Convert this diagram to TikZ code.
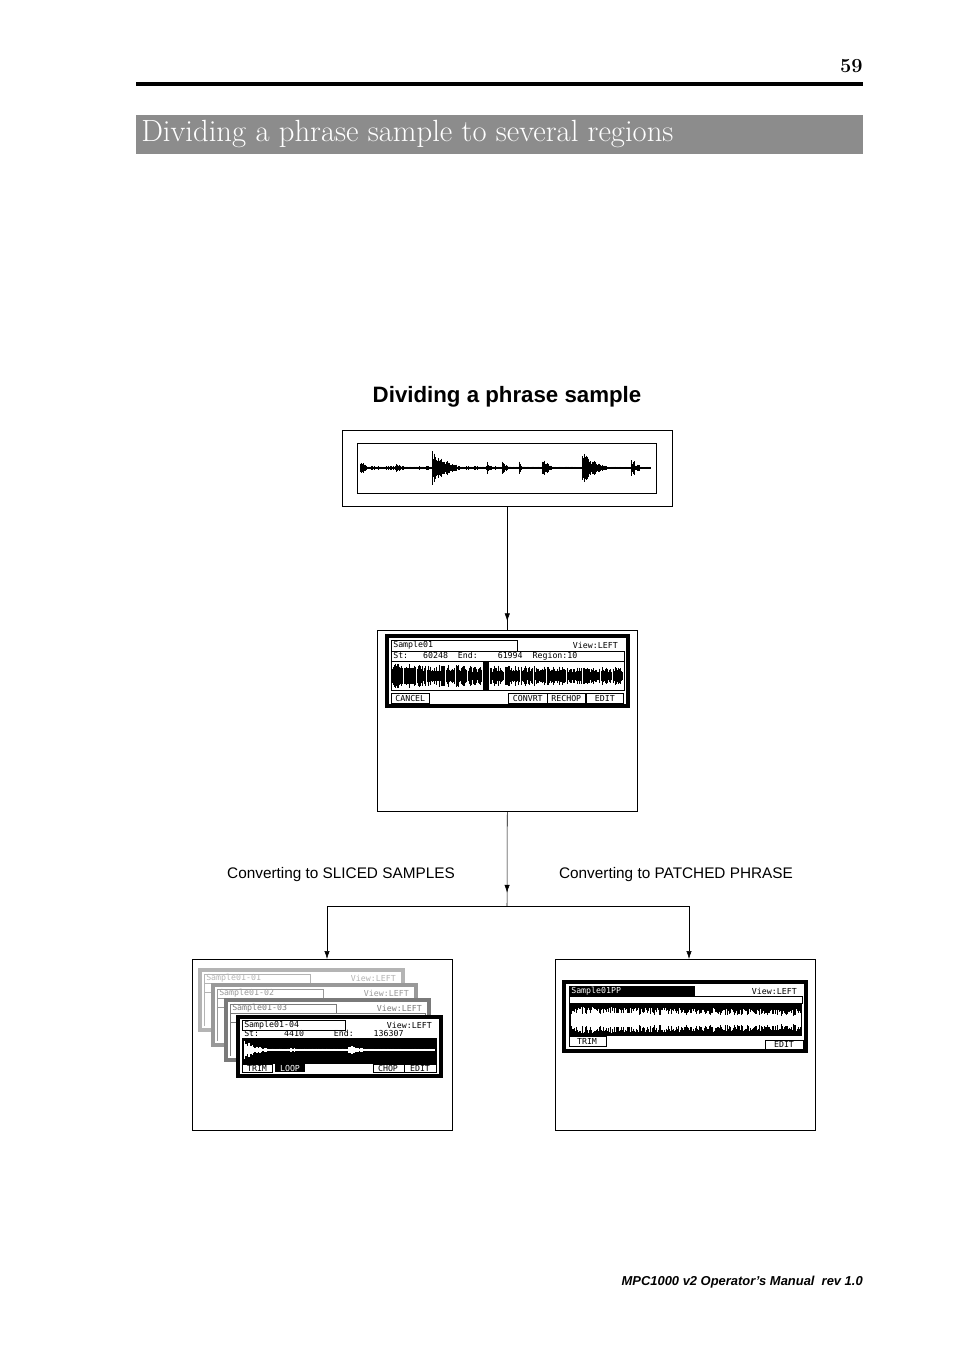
\documentclass[tikz,border=0pt]{standalone}
\usepackage{fontspec}
\setsansfont{Liberation Sans}
\newfontfamily\lcdfont{DejaVu Sans Mono}
\usetikzlibrary{arrows.meta,decorations.markings}
\definecolor{titlegray}{HTML}{8C8C8C}
\definecolor{cardone}{HTML}{B4B4B4}
\definecolor{cardtwo}{HTML}{999999}
\definecolor{cardthree}{HTML}{7A7A7A}
% one decaying burst of bars: x0, centre y, length, amplitude, decay
\newcommand{\burst}[5]{%
  \foreach \k in {0,...,#3}{%
    \pgfmathsetmacro\hh{#4*exp(-\k/#5)*(0.35+0.65*rnd)+0.5}
    \draw (#1+\k,#2-\hh) -- (#1+\k,#2+\hh);}}
\newcommand{\lcdtext}{\fontsize{6.2}{6.2}\selectfont\lcdfont}
\begin{document}
\begin{tikzpicture}[x=0.75pt,y=-0.75pt,
  panel/.style={draw,thin,anchor=north west,inner sep=0pt},
  lcdframe/.style={line width=2.6pt},
  arr/.style={-{Latex[length=6pt,width=4pt]}},
  convlabel/.style={font=\sffamily\fontsize{11.5}{13}\selectfont}]
\pgfmathsetseed{59}
\useasboundingbox (0,0) rectangle (954,1351);

% header
\node[anchor=base east,inner sep=0pt,font=\bfseries\fontsize{15}{15}\selectfont] (pagenum) at (863,73) {59};
\draw[line width=3pt] (136,84) -- (863,84);
\fill[titlegray] (136,115) rectangle (863,154);
\node[anchor=west,inner sep=0pt,text=white,font=\fontsize{23}{23}\selectfont] (title) at (141,134) {Dividing a phrase sample to several regions};
\node[font=\sffamily\bfseries\fontsize{16.7}{17}\selectfont] (heading) at (507,397) {Dividing a phrase sample};

% panels
\node[panel,minimum width=247.5pt,minimum height=57pt] (phrase) at (342,430) {};
\node[panel,minimum width=195pt,minimum height=135.75pt] (chop) at (377,630) {};
\node[panel,minimum width=195pt,minimum height=128.25pt] (slices) at (192,959) {};
\node[panel,minimum width=195pt,minimum height=128.25pt] (patched) at (555,959) {};

% phrase waveform
\draw (357,443) rectangle (656,493);
\begin{scope}[line width=0.75pt]
  \burst{360}{468}{290}{1.5}{400}
  \burst{360}{468}{6}{8}{5}
  \burst{396}{468}{5}{7}{4}
  \burst{432}{468}{24}{22}{12}
  \burst{487}{468}{7}{6}{3}
  \burst{502}{468}{9}{8}{4}
  \burst{519}{468}{7}{6}{3}
  \burst{542}{468}{9}{12}{5}
  \burst{582}{468}{24}{22}{10}
  \burst{631}{468}{8}{11}{5}
\end{scope}

% chop screen
\draw[lcdframe] (387,636) rectangle (628,706);
\draw[thin] (391,640) rectangle (517,651) (391,651) rectangle (624,661) (391,661) rectangle (624,690);
\node[anchor=west,inner sep=0pt] (chopname) at (393,645.5) {\lcdtext Sample01};
\node[anchor=east,inner sep=0pt] (chopview) at (618,645.5) {\lcdtext View:LEFT};
\node[anchor=west,inner sep=0pt] (chopst) at (393,656) {\lcdtext St:\ \ \ 60248\ \ End:\ \ \ \ 61994\ \ Region:10};
\begin{scope}[line width=0.75pt]
  \burst{392}{676}{230}{12}{600}
  \fill (482,662) rectangle (489,690);
  \foreach \r in {403,416,426,445,455,467,482,489,504,520,533,546,566,582,600,612}
    \draw[white,line width=0.6pt] (\r,662) -- (\r,690);
\end{scope}
\foreach \x/\w/\t in {391/38/CANCEL,508/39/CONVRT,547/38/RECHOP,586/37/EDIT}
  \node[draw,thin,anchor=north west,inner sep=0pt,minimum width=\w*0.75pt,minimum height=7.5pt] at (\x,693) {\lcdtext\t};

% stacked slice screens
\foreach \ox/\oy/\c/\n in {200/970/cardone/01,213/985/cardtwo/02,226/1000/cardthree/03}{
  \begin{scope}[shift={(\ox,\oy)}]
    \draw[\c,line width=2.6pt,fill=white] (0,0) rectangle (203,60);
    \draw[\c,thin] (4,4) rectangle (110,13) (4,13) rectangle (199,22) (4,22) -- (4,56);
    \node[\c,anchor=west,inner sep=0pt] at (6,8.5) {\lcdtext Sample01-\n};
    \node[\c,anchor=east,inner sep=0pt] at (196,8.5) {\lcdtext View:LEFT};
  \end{scope}}
\draw[lcdframe,fill=white] (238,1017) rectangle (441,1076);
\draw[thin] (242,1020) rectangle (345,1030);
\node[anchor=west,inner sep=0pt] (slicename) at (244,1025) {\lcdtext Sample01-04};
\node[anchor=east,inner sep=0pt] (sliceview) at (432,1025) {\lcdtext View:LEFT};
\node[anchor=west,inner sep=0pt] (slicest) at (244,1033) {\lcdtext St:\ \ \ \ \ 4410\ \ \ \ \ \ End:\ \ \ \ 136307};
\fill (242,1038) rectangle (437,1064);
\begin{scope}[white,line width=0.75pt]
  \burst{244}{1050}{190}{1}{400}
  \burst{244}{1050}{40}{12}{10}
  \burst{290}{1050}{10}{3}{5}
  \burst{348}{1050}{30}{5}{10}
\end{scope}
\draw[thin] (242,1064) rectangle (272,1072);
\node[inner sep=0pt] at (257,1068) {\lcdtext TRIM};
\fill (275,1064) rectangle (305,1072);
\node[white,inner sep=0pt] at (290,1068) {\lcdtext LOOP};
\draw[thin] (373,1064) rectangle (404,1072) (404,1064) rectangle (436,1072);
\node[inner sep=0pt] at (388,1068) {\lcdtext CHOP};
\node[inner sep=0pt] at (420,1068) {\lcdtext EDIT};

% patched phrase screen
\draw[lcdframe] (564,982) rectangle (806,1051);
\fill (569,986) rectangle (695,996);
\draw[thin] (569,996) rectangle (802,1003);
\node[white,anchor=west,inner sep=0pt] (ppname) at (571,991) {\lcdtext Sample01PP};
\node[anchor=east,inner sep=0pt] (ppview) at (797,991) {\lcdtext View:LEFT};
\fill (569,1003) rectangle (802,1036);
\begin{scope}[white,line width=0.75pt]
  \burst{571}{1020}{229}{13}{900}
\end{scope}
\draw[thin] (569,1036) rectangle (606,1046) (765,1040) rectangle (803,1049);
\node[inner sep=0pt] at (587,1041) {\lcdtext TRIM};
\node[inner sep=0pt] at (784,1044.5) {\lcdtext EDIT};

% connectors
\coordinate (split) at (507,906);
\coordinate (toslices) at (327,906);
\coordinate (topatched) at (689,906);
\draw[postaction={decorate},decoration={markings,mark=at position 0.93 with {\arrow{Latex[length=6pt,width=4pt]}}}] (phrase.south) -- (chop.north);
\draw[postaction={decorate},decoration={markings,mark=at position 0.86 with {\arrow{Latex[length=6pt,width=4pt]}}}] (chop.south) -- (split);
\draw (toslices) -- (topatched);
\draw[arr] (toslices) -- (toslices |- slices.north);
\draw[arr] (topatched) -- (topatched |- patched.north);
\node[convlabel] (slicelabel) at (341,875) {Converting to SLICED SAMPLES};
\node[convlabel] (pplabel) at (676,875) {Converting to PATCHED PHRASE};

% footer
\node[anchor=base east,inner sep=0pt,font=\sffamily\bfseries\itshape\fontsize{9.7}{10}\selectfont] (footer) at (863,1285) {MPC1000 v2 Operator's Manual\ \ rev 1.0};
\end{tikzpicture}
\end{document}
